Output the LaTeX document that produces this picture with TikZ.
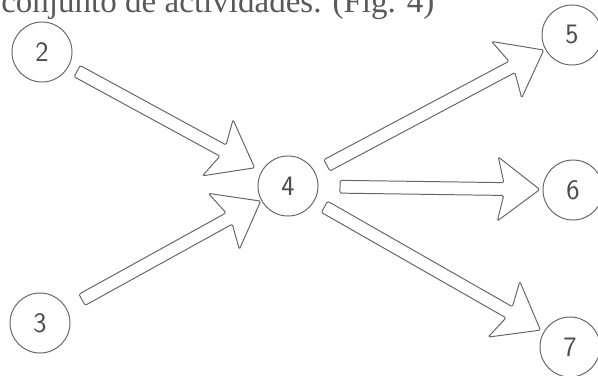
\documentclass[tikz,border=0pt]{standalone}
\usepackage{fontspec}
\setmainfont{Liberation Serif}
\usetikzlibrary{calc}

\tikzset{
  event/.style={circle, draw=black!60, line width=0.7pt, minimum size=1.5cm, inner sep=0pt,
    font=\sffamily\fontsize{20}{20}\selectfont, text=black!70},
  fatline/.style={draw=black!60, line width=0.7pt, line join=round, rounded corners=1pt}
}

% hollow block arrow: from, to, gap at start, gap at end
\newcommand{\fatarrow}[4]{%
  \coordinate (T) at ($(#1.center)!#3!(#2.center)$);
  \coordinate (H) at ($(#2.center)!#4!(#1.center)$);
  \coordinate (P) at ($(H)!0.9cm!(T)$);
  \coordinate (B) at ($(H)!1.05cm!(T)$);
  \draw[fatline] ($(T)!0.16cm!90:(H)$) -- ($(P)!0.16cm!-90:(T)$) -- ($(B)!0.8cm!-90:(T)$)
    -- (H) -- ($(B)!0.8cm!90:(T)$) -- ($(P)!0.16cm!90:(T)$) -- ($(T)!0.16cm!-90:(H)$) -- cycle;
}

\begin{document}
\begin{tikzpicture}[x=0.025cm, y=-0.025cm]
    \useasboundingbox (0,0) rectangle (598,375);

    % Caption (cut at the top)
    \node (caption) [anchor=base west, inner sep=0pt, font=\fontsize{23.5}{24}\selectfont, text=black!65]
      at (1,13) {conjunto de actividades. (Fig. 4)};

    % Events
    \node[event] (e2) at (42,52) {2};
    \node[event] (e3) at (40,323) {3};
    \node[event] (e4) at (288,186) {4};
    \node[event] (e5) at (572,35) {5};
    \node[event] (e6) at (573,190) {6};
    \node[event] (e7) at (570,347) {7};

    % Activities
    \fatarrow{e2}{e4}{1.0cm}{0.95cm}
    \fatarrow{e3}{e4}{1.2cm}{0.78cm}
    \fatarrow{e4}{e5}{1.1cm}{0.8cm}
    \fatarrow{e4}{e6}{1.3cm}{0.83cm}
    \fatarrow{e4}{e7}{1.05cm}{0.85cm}
\end{tikzpicture}
\end{document}
